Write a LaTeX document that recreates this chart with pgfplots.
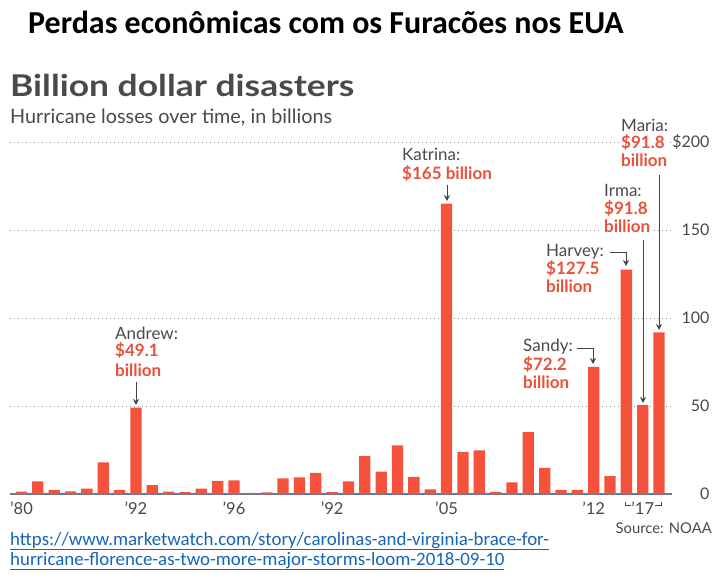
\documentclass[border=0pt]{standalone}
\usepackage{pgfplots}
\pgfplotsset{compat=1.18}
\usepackage{graphicx}
\usepackage{fontspec}
\setmainfont{Lato}
\newfontfamily\calibri{Carlito}
\usetikzlibrary{arrows.meta}
\definecolor{barred}{HTML}{F4523B}
\definecolor{txtred}{HTML}{EA503A}
\definecolor{txtgray}{HTML}{4A4A4A}
\definecolor{gridgray}{HTML}{8A8A8A}
\definecolor{basecol}{HTML}{6A7A8A}
\definecolor{linkblue}{HTML}{1565B8}
\definecolor{arrowgray}{HTML}{444444}
\newcommand\fa{\fontsize{17}{18}\selectfont}
\begin{document}
\begin{tikzpicture}[x=1pt,y=1pt]
\path[use as bounding box, fill=white] (0,0) rectangle (725,576);
% titles
\node[anchor=base west, inner sep=0pt] at (28,542) {\calibri\bfseries\fontsize{32}{33}\selectfont Perdas econômicas com os Furacões nos EUA};
\node[anchor=base west, inner sep=0pt, text=txtgray] at (10,479) {\scalebox{1.18}[1]{\bfseries\fontsize{30}{31}\selectfont Billion dollar disasters}};
\node[anchor=base west, inner sep=0pt, text=txtgray] at (10,452) {\fontsize{19.8}{20}\selectfont Hurricane losses over time, in billions};
\begin{axis}[
  at={(10pt,82pt)}, anchor=south west, scale only axis,
  width=662pt, height=352pt,
  xmin=0.297, xmax=40.79, ymin=0, ymax=200,
  axis x line*=bottom, axis y line*=right,
  y axis line style={draw=none},
  x axis line style={draw=basecol, line width=1.2pt, -},
  major tick length=0pt,
  ytick={0,50,100,150,200},
  yticklabels={0,50,100,150,\$200},
  yticklabel style={anchor=east, xshift=41pt, text=txtgray, font=\fontsize{16}{16}\selectfont},
  xtick={1,8,14,20,27,36,39},
  xticklabels={’80,’92,’96,’92,’05,’12,’17},
  xticklabel style={anchor=base, yshift=-20pt, text=txtgray, font=\fontsize{16.5}{16.5}\selectfont},
  ymajorgrids,
  grid style={draw=gridgray, line width=0.8pt, dash pattern=on 1.2pt off 2.8pt},
  /pgf/number format/assume math mode=true,
  clip=false,
]
\addplot[ybar, bar width=11.3pt, fill=barred, draw=none] coordinates {
(1,1.3) (2,7.2) (3,2.4) (4,1.5) (5,3.0) (6,18.0) (7,2.3) (8,49.1) (9,5.0) (10,1.3)
(11,1.0) (12,3.0) (13,7.4) (14,7.8) (15,0.7) (16,0.9) (17,8.9) (18,9.5) (19,12.0) (20,1.0)
(21,7.2) (22,21.5) (23,12.7) (24,27.7) (25,9.7) (26,2.7) (27,165) (28,23.9) (29,24.8) (30,1.0)
(31,6.6) (32,35.2) (33,14.8) (34,2.4) (35,2.4) (36,72.2) (37,10.2) (38,127.5) (39,50.5) (40,91.8)
};
\end{axis}
% '17 bracket
\draw[txtgray, line width=0.8pt] (625,74) -- (625,71) -- (631,71);
\draw[txtgray, line width=0.8pt] (655,71) -- (661,71) -- (661,74);
% source
\node[anchor=base east, inner sep=0pt, text=txtgray] at (712,43) {\fontsize{14.8}{15}\selectfont Source: NOAA};
% URL
\node[anchor=base west, inner sep=0pt, text=linkblue] at (10,31) {\calibri\fontsize{18.9}{19}\selectfont \underline{https://www.marketwatch.com/story/carolinas-and-virginia-brace-for-}};
\node[anchor=base west, inner sep=0pt, text=linkblue] at (10,11) {\calibri\fontsize{18.9}{19}\selectfont \underline{hurricane-florence-as-two-more-major-storms-loom-2018-09-10}};
% annotations
\tikzset{ann/.style={anchor=base west, inner xsep=2pt, inner ysep=1pt, fill=white, font=\fa},
  arr/.style={draw=arrowgray, line width=1pt, -{Stealth[length=6pt,width=6pt]}}}
% Andrew
\node[ann, text=txtgray] at (113,236) {Andrew:};
\node[ann, text=txtred] at (113,219) {\bfseries\$49.1};
\node[ann, text=txtred] at (113,200) {\bfseries billion};
\draw[arr] (136,194) -- (136,171);
% Katrina
\node[ann, text=txtgray] at (400,415) {Katrina:};
\node[ann, text=txtred] at (400,396) {\bfseries\$165 billion};
\draw[arr] (447,391) -- (447,375);
% Sandy
\node[ann, text=txtgray] at (521,224) {Sandy:};
\node[ann, text=txtred] at (521,206) {\bfseries\$72.2};
\node[ann, text=txtred] at (521,188) {\bfseries billion};
\draw[arr] (577,227) -- (593,227) -- (593,212);
% Harvey
\node[ann, text=txtgray] at (544,319) {Harvey:};
\node[ann, text=txtred] at (544,301) {\bfseries\$127.5};
\node[ann, text=txtred] at (544,283) {\bfseries billion};
\draw[arr] (610,323) -- (626,323) -- (626,310);
% Irma
\node[ann, text=txtgray] at (602,379) {Irma:};
\node[ann, text=txtred] at (602,361) {\bfseries\$91.8};
\node[ann, text=txtred] at (602,343) {\bfseries billion};
\draw[arr] (643,336) -- (643,173);
% Maria
\node[ann, text=txtgray] at (619,444) {Maria:};
\node[ann, text=txtred] at (619,427) {\bfseries\$91.8};
\node[ann, text=txtred] at (619,409) {\bfseries billion};
\draw[arr] (659,401) -- (659,246);
\end{tikzpicture}
\end{document}
